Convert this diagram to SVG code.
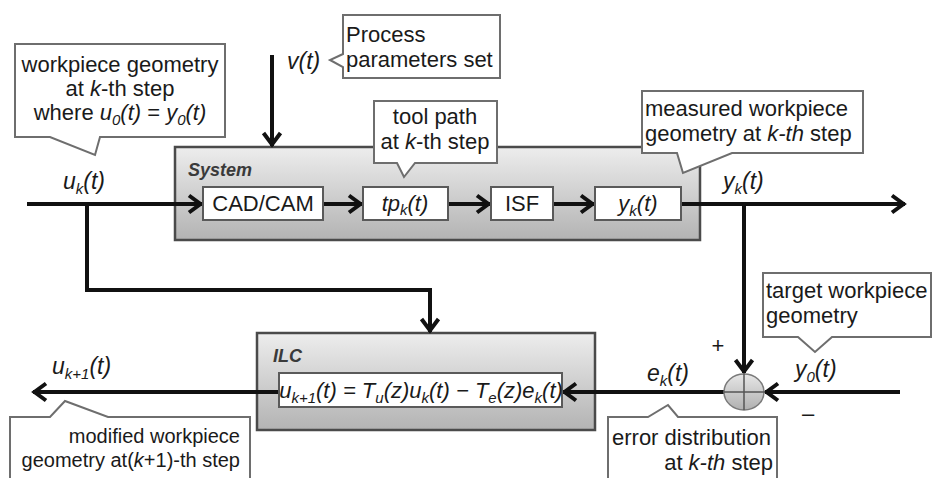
<svg xmlns="http://www.w3.org/2000/svg" width="933" height="478" viewBox="0 0 933 478">
  <style>
    text { font-family: "Liberation Sans", Arial, sans-serif; fill: #1a1a1a; }
    .t22 { font-size: 22px; }
    .t20 { font-size: 20px; }
    .lbl { font-size: 23px; font-style: italic; }
    .it { font-style: italic; }
    .sub { font-size: 15px; }
    .title { font-size: 18px; font-weight: bold; font-style: italic; fill: #3a3a3a; }
    .callout { fill: #ffffff; stroke: #6e6e6e; stroke-width: 2; stroke-linejoin: miter; }
    .block { stroke: #4a4a4a; stroke-width: 2.5; }
    .inner { fill: #ffffff; stroke: #5a5a5a; stroke-width: 2; }
    .wire { fill: none; stroke: #111111; stroke-width: 4; }
  </style>
  <defs>
    <linearGradient id="boxFill" x1="0" y1="0" x2="0" y2="1">
      <stop offset="0" stop-color="#ededed"/>
      <stop offset="1" stop-color="#b3b3b3"/>
    </linearGradient>
    <linearGradient id="sumFill" x1="0" y1="0" x2="0" y2="1">
      <stop offset="0" stop-color="#e6e6e6"/>
      <stop offset="1" stop-color="#b0b0b0"/>
    </linearGradient>
    <marker id="arr" viewBox="-16 -11 18 22" refX="0" refY="0" markerWidth="18" markerHeight="22" markerUnits="userSpaceOnUse" orient="auto">
      <path d="M-13,-8.5 L-1.5,0 L-13,8.5" fill="none" stroke="#111111" stroke-width="4"/>
    </marker>
  </defs>

  <!-- System block -->
  <g id="system">
    <rect class="block" x="175" y="147" width="525" height="93" fill="url(#boxFill)"/>
    <text class="title" x="188" y="176">System</text>
  </g>

  <!-- ILC block -->
  <g id="ilc">
    <rect class="block" x="257" y="333" width="338" height="97" fill="url(#boxFill)"/>
    <text class="title" x="273" y="362">ILC</text>
  </g>

  <!-- connectors -->
  <g id="connectors">
    <path class="wire" d="M27,204 H202" marker-end="url(#arr)"/>
    <path class="wire" d="M323,204 H362" marker-end="url(#arr)"/>
    <path class="wire" d="M448,204 H490" marker-end="url(#arr)"/>
    <path class="wire" d="M553,204 H594" marker-end="url(#arr)"/>
    <path class="wire" d="M681,204 H905" marker-end="url(#arr)"/>
    <path class="wire" d="M87,204 V290 H430 V332" stroke-width="3.5" marker-end="url(#arr)"/>
    <path class="wire" d="M272,55 V146" stroke-width="3.5" marker-end="url(#arr)"/>
    <path class="wire" d="M744,204 V373" stroke-width="3.5" marker-end="url(#arr)"/>
    <path class="wire" d="M900,392 H765" marker-end="url(#arr)"/>
    <path class="wire" d="M724,392 H563" marker-end="url(#arr)"/>
    <path class="wire" d="M279,392 H33" marker-end="url(#arr)"/>
  </g>

  <!-- inner blocks of the System -->
  <g id="cadcam">
    <rect class="inner" x="203" y="187" width="120" height="33"/>
    <text class="t22" x="263" y="211" text-anchor="middle">CAD/CAM</text>
  </g>
  <g id="toolpath">
    <rect class="inner" x="363" y="187" width="85" height="33"/>
    <text class="t22 it" x="405" y="211" text-anchor="middle">tp<tspan class="sub" dy="4">k</tspan><tspan dy="-4">(t)</tspan></text>
  </g>
  <g id="isf">
    <rect class="inner" x="491" y="187" width="62" height="33"/>
    <text class="t22" x="522" y="211" text-anchor="middle">ISF</text>
  </g>
  <g id="output">
    <rect class="inner" x="595" y="187" width="86" height="33"/>
    <text class="t22 it" x="638" y="211" text-anchor="middle">y<tspan class="sub" dy="5">k</tspan><tspan dy="-5">(t)</tspan></text>
  </g>

  <!-- ILC update law -->
  <g id="law">
    <rect class="inner" x="279" y="373" width="283" height="34"/>
    <text class="t22 it" x="421" y="398" text-anchor="middle">u<tspan class="sub" dy="5">k+1</tspan><tspan dy="-5">(t) = T</tspan><tspan class="sub" dy="5">u</tspan><tspan dy="-5">(z)u</tspan><tspan class="sub" dy="5">k</tspan><tspan dy="-5">(t) − T</tspan><tspan class="sub" dy="5">e</tspan><tspan dy="-5">(z)e</tspan><tspan class="sub" dy="5">k</tspan><tspan dy="-5">(t)</tspan></text>
  </g>

  <!-- summing junction -->
  <g id="sum">
    <ellipse cx="744" cy="392" rx="20" ry="18" fill="url(#sumFill)" stroke="#7a7a7a" stroke-width="1.5"/>
    <path d="M724,392 H764 M744,374 V410" stroke="#555555" stroke-width="1.5" fill="none"/>
    <text class="t22" x="718" y="353" text-anchor="middle">+</text>
    <text class="t22" x="808" y="421" text-anchor="middle">–</text>
  </g>

  <!-- signal labels -->
  <g id="labels">
    <text class="lbl" x="63" y="189">u<tspan class="sub" dy="5">k</tspan><tspan dy="-5">(t)</tspan></text>
    <text class="lbl" x="287" y="69">v(t)</text>
    <text class="lbl" x="723" y="189">y<tspan class="sub" dy="5">k</tspan><tspan dy="-5">(t)</tspan></text>
    <text class="lbl" x="52" y="374">u<tspan class="sub" dy="5">k+1</tspan><tspan dy="-5">(t)</tspan></text>
    <text class="lbl" x="647" y="381">e<tspan class="sub" dy="5">k</tspan><tspan dy="-5">(t)</tspan></text>
    <text class="lbl" x="795" y="377">y<tspan class="sub" dy="5">0</tspan><tspan dy="-5">(t)</tspan></text>
  </g>

  <!-- callouts -->
  <g id="note-input">
    <path class="callout" d="M15,44 H225 V137 H100 L95,155 L50,137 H15 Z"/>
    <text class="t22" x="120" y="72" text-anchor="middle">workpiece geometry</text>
    <text class="t22" x="120" y="96" text-anchor="middle">at <tspan class="it">k</tspan>-th step</text>
    <text class="t22" x="120" y="120" text-anchor="middle">where <tspan class="it">u</tspan><tspan class="sub it" dy="5">0</tspan><tspan class="it" dy="-5">(t)</tspan> = <tspan class="it">y</tspan><tspan class="sub it" dy="5">0</tspan><tspan class="it" dy="-5">(t)</tspan></text>
  </g>
  <g id="note-params">
    <path class="callout" d="M343,15 H500 V78 H343 V67 L330,60 L343,54 Z"/>
    <text class="t22" x="346" y="42">Process</text>
    <text class="t22" x="346" y="67">parameters set</text>
  </g>
  <g id="note-toolpath">
    <path class="callout" d="M374,101 H497 V163 H415 L404,177 L397,163 H374 Z"/>
    <text class="t22" x="435" y="124" text-anchor="middle">tool path</text>
    <text class="t22" x="435" y="149" text-anchor="middle">at <tspan class="it">k</tspan>-th step</text>
  </g>
  <g id="note-measured">
    <path class="callout" d="M642,91 H863 V153 H732 L683,173 L677,153 H642 Z"/>
    <text class="t22" x="645" y="116">measured workpiece</text>
    <text class="t22" x="645" y="141">geometry at <tspan class="it">k-th</tspan> step</text>
  </g>
  <g id="note-target">
    <path class="callout" d="M763,273 H931 V337 H832 L815,352 L798,337 H763 Z"/>
    <text class="t22" x="766" y="298">target workpiece</text>
    <text class="t22" x="766" y="323">geometry</text>
  </g>
  <g id="note-error">
    <path class="callout" d="M608,417 H648 L668,405 L678,417 H777 V482 H608 Z"/>
    <text class="t22" x="612" y="445">error distribution</text>
    <text class="t22" x="773" y="470" text-anchor="end">at <tspan class="it">k-th</tspan> step</text>
  </g>
  <g id="note-modified">
    <path class="callout" d="M10,417 H50 L65,401 L108,417 H250 V482 H10 Z"/>
    <text class="t20" x="240" y="443" text-anchor="end">modified workpiece</text>
    <text class="t20" x="240" y="467" text-anchor="end">geometry at(<tspan class="it">k</tspan>+1)-th step</text>
  </g>
</svg>
